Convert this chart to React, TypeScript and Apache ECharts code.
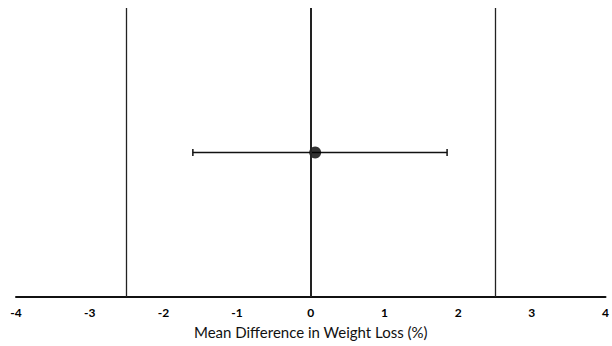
import React, { useEffect, useRef } from "react";
import * as echarts from "echarts";

const xTicks = [-4, -3, -2, -1, 0, 1, 2, 3, 4];
const refLines = [-2.5, 0, 2.5];
const estimate = [0.06];
const ciLow = [-1.6];
const ciHigh = [1.85];
const rowY = [0.5];
const axisTitle = "Mean Difference in Weight Loss (%)";

export default function App() {
  const ref = useRef<HTMLDivElement>(null);
  useEffect(() => {
    if (!ref.current) return;
    const chart = echarts.init(ref.current, null, { renderer: "svg" });
    const font = "Lato, 'Open Sans', sans-serif";
    chart.setOption({
      animation: false,
      backgroundColor: "#ffffff",
      grid: { left: 16, right: 2, top: 8, bottom: 49, containLabel: false },
      xAxis: {
        type: "value",
        min: xTicks[0],
        max: xTicks[xTicks.length - 1],
        interval: 1,
        name: axisTitle,
        nameLocation: "middle",
        nameGap: 27,
        nameTextStyle: { color: "#111", fontSize: 15, fontFamily: font },
        axisLine: { show: true, lineStyle: { color: "#111", width: 2 } },
        axisTick: { show: false },
        splitLine: { show: false },
        axisLabel: {
          color: "#000",
          fontSize: 12,
          fontWeight: "bold",
          fontFamily: font,
          margin: 9,
          formatter: (v: number) => String(v),
        },
      },
      yAxis: {
        type: "value",
        min: 0,
        max: 1,
        show: false,
      },
      series: [
        {
          type: "scatter",
          data: [],
          markLine: {
            silent: true,
            symbol: "none",
            label: { show: false },
            data: refLines.map((v) => ({
              xAxis: v,
              lineStyle: { color: "#222", width: v === 0 ? 2 : 1.3, type: "solid" },
            })),
          },
        },
        {
          type: "custom",
          data: estimate.map((e, i) => [ciLow[i], ciHigh[i], rowY[i]]),
          renderItem: (params: any, api: any) => {
            const lo = api.coord([api.value(0), api.value(2)]);
            const hi = api.coord([api.value(1), api.value(2)]);
            const style = { stroke: "#111", lineWidth: 1.5 };
            return {
              type: "group",
              children: [
                { type: "line", shape: { x1: lo[0], y1: lo[1], x2: hi[0], y2: hi[1] }, style },
                { type: "line", shape: { x1: lo[0], y1: lo[1] - 3.5, x2: lo[0], y2: lo[1] + 3.5 }, style },
                { type: "line", shape: { x1: hi[0], y1: hi[1] - 3.5, x2: hi[0], y2: hi[1] + 3.5 }, style },
              ],
            };
          },
          z: 3,
        },
        {
          type: "scatter",
          data: estimate.map((e, i) => [e, rowY[i]]),
          symbol: "circle",
          symbolSize: 12,
          itemStyle: { color: "#000" },
          z: 4,
        },
      ],
    });
    return () => chart.dispose();
  }, []);
  return (
    <div
      ref={ref}
      style={{ position: "fixed", left: 0, top: 0, width: 612, height: 346, background: "#fff" }}
    />
  );
}
